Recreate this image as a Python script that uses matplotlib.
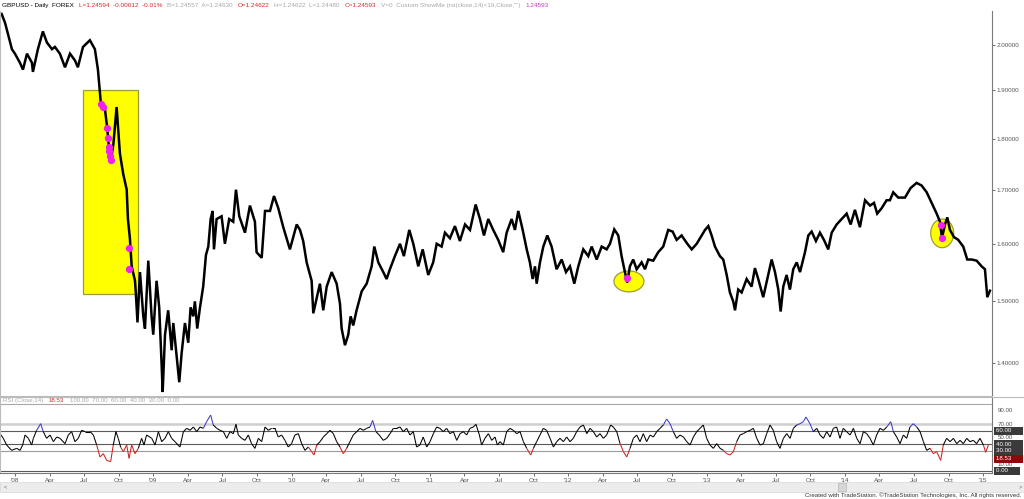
import numpy as np
import matplotlib
matplotlib.use("Agg")
import matplotlib.pyplot as plt
from matplotlib.collections import LineCollection
from matplotlib.patches import Rectangle, Ellipse
from matplotlib.ticker import NullLocator
from matplotlib.transforms import blended_transform_factory

plt.rcParams['font.family'] = ['Liberation Sans', 'DejaVu Sans']

# GBPUSD daily closes (decimal year, price)
price_t = [2007.904, 2007.928, 2007.949, 2007.978, 2008.000, 2008.036, 2008.058, 2008.087, 2008.123, 2008.130,
           2008.166, 2008.202, 2008.231, 2008.268, 2008.289, 2008.325, 2008.362, 2008.398, 2008.434, 2008.455,
           2008.492, 2008.542, 2008.578, 2008.600, 2008.622, 2008.651, 2008.667, 2008.682, 2008.694, 2008.712,
           2008.735, 2008.759, 2008.783, 2008.808, 2008.817, 2008.831, 2008.844, 2008.868, 2008.875, 2008.886,
           2008.904, 2008.928, 2008.940, 2008.964, 2008.988, 2009.000, 2009.024, 2009.043, 2009.061, 2009.068,
           2009.085, 2009.108, 2009.133, 2009.145, 2009.169, 2009.188, 2009.205, 2009.229, 2009.253, 2009.270,
           2009.289, 2009.301, 2009.318, 2009.338, 2009.361, 2009.381, 2009.398, 2009.415, 2009.429, 2009.439,
           2009.458, 2009.494, 2009.518, 2009.549, 2009.578, 2009.598, 2009.622, 2009.663, 2009.699, 2009.735,
           2009.747, 2009.784, 2009.808, 2009.844, 2009.873, 2009.904, 2009.940, 2009.988, 2010.037, 2010.061,
           2010.084, 2010.109, 2010.145, 2010.157, 2010.205, 2010.229, 2010.254, 2010.290, 2010.326, 2010.350,
           2010.362, 2010.386, 2010.410, 2010.427, 2010.446, 2010.470, 2010.507, 2010.543, 2010.579, 2010.598,
           2010.627, 2010.663, 2010.687, 2010.711, 2010.747, 2010.784, 2010.812, 2010.851, 2010.880, 2010.916,
           2010.948, 2010.988, 2011.024, 2011.049, 2011.085, 2011.109, 2011.145, 2011.181, 2011.217, 2011.254,
           2011.290, 2011.331, 2011.362, 2011.391, 2011.422, 2011.458, 2011.494, 2011.530, 2011.555, 2011.591,
           2011.615, 2011.639, 2011.671, 2011.700, 2011.723, 2011.743, 2011.760, 2011.772, 2011.796, 2011.820,
           2011.849, 2011.880, 2011.916, 2011.953, 2011.984, 2012.013, 2012.044, 2012.073, 2012.109, 2012.145,
           2012.170, 2012.206, 2012.242, 2012.278, 2012.302, 2012.333, 2012.362, 2012.386, 2012.410, 2012.427,
           2012.446, 2012.470, 2012.495, 2012.531, 2012.555, 2012.579, 2012.615, 2012.651, 2012.687, 2012.723,
           2012.755, 2012.784, 2012.820, 2012.861, 2012.893, 2012.929, 2012.965, 2012.989, 2013.013, 2013.037,
           2013.061, 2013.097, 2013.121, 2013.146, 2013.169, 2013.193, 2013.206, 2013.229, 2013.254, 2013.290,
           2013.326, 2013.350, 2013.374, 2013.410, 2013.446, 2013.471, 2013.495, 2013.519, 2013.536, 2013.555,
           2013.579, 2013.603, 2013.627, 2013.652, 2013.676, 2013.712, 2013.736, 2013.760, 2013.791, 2013.820,
           2013.849, 2013.880, 2013.905, 2013.941, 2013.977, 2014.013, 2014.042, 2014.073, 2014.109, 2014.146,
           2014.182, 2014.211, 2014.234, 2014.266, 2014.302, 2014.326, 2014.350, 2014.386, 2014.435, 2014.475,
           2014.519, 2014.555, 2014.592, 2014.628, 2014.664, 2014.688, 2014.702, 2014.724, 2014.741, 2014.760,
           2014.789, 2014.820, 2014.856, 2014.885, 2014.917, 2014.953, 2014.989, 2015.013, 2015.030, 2015.049]
price_v = [2.070, 2.050, 2.025, 1.990, 1.980, 1.960, 1.945, 1.980, 1.960, 1.940,
           1.990, 2.030, 2.005, 1.990, 1.995, 1.980, 1.950, 1.980, 1.965, 1.950,
           1.995, 2.010, 1.990, 1.945, 1.870, 1.860, 1.822, 1.775, 1.757, 1.790,
           1.865, 1.770, 1.730, 1.700, 1.645, 1.610, 1.560, 1.535, 1.510, 1.465,
           1.550, 1.475, 1.455, 1.570, 1.475, 1.445, 1.535, 1.490, 1.395, 1.355,
           1.445, 1.485, 1.420, 1.464, 1.410, 1.370, 1.415, 1.464, 1.432, 1.490,
           1.475, 1.500, 1.455, 1.490, 1.525, 1.580, 1.595, 1.645, 1.660, 1.590,
           1.645, 1.650, 1.600, 1.645, 1.640, 1.700, 1.650, 1.620, 1.670, 1.640,
           1.585, 1.575, 1.660, 1.660, 1.688, 1.665, 1.630, 1.590, 1.635, 1.625,
           1.605, 1.567, 1.535, 1.480, 1.530, 1.485, 1.525, 1.550, 1.530, 1.496,
           1.455, 1.428, 1.445, 1.475, 1.460, 1.485, 1.517, 1.530, 1.560, 1.595,
           1.567, 1.550, 1.538, 1.555, 1.578, 1.600, 1.578, 1.625, 1.600, 1.560,
           1.590, 1.545, 1.567, 1.600, 1.595, 1.620, 1.610, 1.632, 1.605, 1.635,
           1.625, 1.672, 1.645, 1.615, 1.645, 1.625, 1.607, 1.585, 1.620, 1.645,
           1.625, 1.660, 1.625, 1.590, 1.567, 1.538, 1.560, 1.530, 1.567, 1.595,
           1.615, 1.595, 1.555, 1.572, 1.550, 1.560, 1.530, 1.560, 1.590, 1.578,
           1.595, 1.572, 1.595, 1.590, 1.600, 1.626, 1.615, 1.578, 1.550, 1.532,
           1.560, 1.572, 1.555, 1.567, 1.555, 1.572, 1.570, 1.585, 1.595, 1.625,
           1.622, 1.607, 1.615, 1.600, 1.590, 1.600, 1.615, 1.625, 1.632, 1.615,
           1.595, 1.578, 1.572, 1.545, 1.515, 1.500, 1.485, 1.520, 1.515, 1.538,
           1.525, 1.557, 1.538, 1.507, 1.545, 1.572, 1.550, 1.520, 1.483, 1.525,
           1.545, 1.520, 1.555, 1.567, 1.550, 1.585, 1.615, 1.622, 1.605, 1.620,
           1.607, 1.590, 1.620, 1.635, 1.645, 1.655, 1.635, 1.662, 1.630, 1.680,
           1.670, 1.675, 1.655, 1.665, 1.680, 1.680, 1.695, 1.685, 1.685, 1.703,
           1.713, 1.708, 1.695, 1.675, 1.655, 1.640, 1.610, 1.635, 1.648, 1.625,
           1.612, 1.607, 1.595, 1.572, 1.572, 1.570, 1.560, 1.555, 1.507, 1.518]

# RSI(14) of the close
rsi_t = [2007.892, 2007.916, 2007.940, 2007.976, 2008.013, 2008.037, 2008.056, 2008.073, 2008.097, 2008.121,
         2008.133, 2008.157, 2008.186, 2008.205, 2008.229, 2008.254, 2008.278, 2008.302, 2008.326, 2008.362,
         2008.386, 2008.410, 2008.434, 2008.458, 2008.482, 2008.506, 2008.543, 2008.567, 2008.591, 2008.615,
         2008.639, 2008.663, 2008.692, 2008.711, 2008.730, 2008.747, 2008.764, 2008.784, 2008.808, 2008.825,
         2008.844, 2008.868, 2008.892, 2008.916, 2008.933, 2008.952, 2008.989, 2009.013, 2009.037, 2009.061,
         2009.085, 2009.109, 2009.133, 2009.157, 2009.193, 2009.218, 2009.242, 2009.266, 2009.290, 2009.314,
         2009.338, 2009.362, 2009.386, 2009.415, 2009.434, 2009.459, 2009.483, 2009.507, 2009.531, 2009.555,
         2009.579, 2009.598, 2009.615, 2009.639, 2009.663, 2009.687, 2009.711, 2009.735, 2009.760, 2009.784,
         2009.808, 2009.832, 2009.856, 2009.880, 2009.904, 2009.928, 2009.952, 2009.976, 2010.000, 2010.024,
         2010.049, 2010.073, 2010.097, 2010.121, 2010.145, 2010.162, 2010.182, 2010.206, 2010.230, 2010.254,
         2010.278, 2010.302, 2010.326, 2010.350, 2010.374, 2010.398, 2010.422, 2010.446, 2010.471, 2010.495,
         2010.519, 2010.543, 2010.567, 2010.586, 2010.610, 2010.634, 2010.663, 2010.688, 2010.712, 2010.736,
         2010.760, 2010.784, 2010.808, 2010.832, 2010.856, 2010.880, 2010.904, 2010.928, 2010.952, 2010.977,
         2011.001, 2011.025, 2011.049, 2011.073, 2011.097, 2011.121, 2011.145, 2011.170, 2011.194, 2011.218,
         2011.242, 2011.266, 2011.290, 2011.314, 2011.333, 2011.358, 2011.374, 2011.398, 2011.423, 2011.447,
         2011.471, 2011.488, 2011.507, 2011.531, 2011.555, 2011.579, 2011.603, 2011.628, 2011.652, 2011.676,
         2011.700, 2011.729, 2011.748, 2011.772, 2011.796, 2011.820, 2011.844, 2011.869, 2011.893, 2011.917,
         2011.941, 2011.965, 2011.989, 2012.013, 2012.037, 2012.061, 2012.085, 2012.110, 2012.134, 2012.158,
         2012.182, 2012.206, 2012.230, 2012.254, 2012.278, 2012.307, 2012.326, 2012.351, 2012.375, 2012.399,
         2012.423, 2012.447, 2012.471, 2012.495, 2012.519, 2012.543, 2012.567, 2012.592, 2012.616, 2012.640,
         2012.664, 2012.688, 2012.712, 2012.736, 2012.760, 2012.784, 2012.808, 2012.833, 2012.857, 2012.881,
         2012.905, 2012.929, 2012.953, 2012.977, 2013.001, 2013.025, 2013.049, 2013.074, 2013.098, 2013.122,
         2013.146, 2013.170, 2013.194, 2013.218, 2013.242, 2013.266, 2013.290, 2013.315, 2013.339, 2013.363,
         2013.387, 2013.411, 2013.435, 2013.459, 2013.483, 2013.507, 2013.531, 2013.556, 2013.580, 2013.604,
         2013.628, 2013.652, 2013.676, 2013.700, 2013.719, 2013.748, 2013.772, 2013.797, 2013.821, 2013.845,
         2013.869, 2013.893, 2013.917, 2013.941, 2013.965, 2013.989, 2014.013, 2014.038, 2014.062, 2014.086,
         2014.110, 2014.134, 2014.158, 2014.182, 2014.206, 2014.230, 2014.254, 2014.279, 2014.303, 2014.332,
         2014.351, 2014.375, 2014.399, 2014.423, 2014.447, 2014.471, 2014.495, 2014.520, 2014.544, 2014.568,
         2014.592, 2014.616, 2014.640, 2014.664, 2014.693, 2014.712, 2014.736, 2014.761, 2014.785, 2014.809,
         2014.833, 2014.857, 2014.881, 2014.905, 2014.929, 2014.953, 2014.977, 2015.002, 2015.018, 2015.038]
rsi_v = [56, 49, 39, 31, 34, 31, 39, 54, 49, 39,
         49, 61, 71, 59, 49, 54, 44, 51, 49, 41,
         54, 59, 44, 49, 61, 59, 59, 54, 39, 21,
         26, 16, 14, 39, 59, 49, 36, 29, 39, 19,
         39, 26, 34, 49, 39, 54, 49, 39, 59, 44,
         49, 59, 49, 44, 36, 59, 64, 61, 66, 59,
         66, 64, 74, 84, 69, 64, 61, 59, 49, 59,
         56, 70, 54, 49, 46, 54, 41, 34, 49, 44,
         66, 61, 64, 64, 51, 54, 46, 36, 41, 54,
         56, 41, 31, 36, 29, 24, 39, 44, 51, 56,
         61, 56, 44, 36, 26, 34, 44, 54, 59, 64,
         61, 64, 66, 76, 59, 54, 46, 49, 56, 64,
         64, 66, 59, 64, 54, 59, 36, 39, 51, 36,
         44, 56, 66, 64, 59, 64, 56, 59, 46, 56,
         59, 54, 64, 66, 70, 54, 39, 49, 56, 46,
         51, 39, 44, 39, 59, 64, 61, 56, 59, 44,
         34, 24, 34, 44, 54, 64, 61, 49, 36, 44,
         49, 44, 51, 44, 49, 59, 66, 69, 56, 64,
         59, 51, 56, 49, 54, 69, 66, 59, 41, 29,
         21, 34, 49, 54, 44, 56, 44, 54, 51, 59,
         64, 69, 78, 71, 59, 49, 54, 51, 44, 39,
         51, 59, 64, 69, 49, 39, 34, 41, 34, 31,
         26, 24, 29, 44, 54, 56, 59, 61, 64, 49,
         39, 41, 56, 69, 61, 44, 34, 49, 56, 49,
         64, 69, 71, 74, 81, 71, 59, 64, 54, 49,
         59, 51, 64, 66, 49, 64, 59, 54, 64, 49,
         41, 59, 56, 49, 39, 54, 64, 61, 66, 74,
         59, 51, 41, 54, 49, 66, 71, 66, 59, 44,
         31, 34, 26, 29, 16, 39, 49, 44, 49, 41,
         46, 41, 49, 44, 46, 41, 49, 39, 28, 39]

# ShowMe markers (rsi < 19)
dots_t = [2008.622, 2008.638, 2008.667, 2008.672, 2008.678, 2008.682, 2008.687, 2008.694,
          2008.824, 2008.824, 2012.423, 2014.693, 2014.702]
dots_v = [1.871, 1.865, 1.822, 1.802, 1.783, 1.775, 1.765, 1.757,
          1.592, 1.555, 1.540, 1.634, 1.611]

price_ticks = [1.4, 1.5, 1.6, 1.7, 1.8, 1.9, 2.0]
rsi_levels = [100, 70, 60, 40, 30, 0]
years = [2008, 2009, 2010, 2011, 2012, 2013, 2014, 2015]
month_names = {1: None, 4: 'Apr', 7: 'Jul', 10: 'Oct'}

W, H = 1024, 499


def box(x0, y0, x1, y1):
    return [x0 / W, 1 - y1 / H, (x1 - x0) / W, (y1 - y0) / H]


fig = plt.figure(figsize=(W / 100, H / 100), dpi=100)
fig.patch.set_facecolor('white')

xlim = (2007.892, 2015.064)
axis_c = '#7a7a7a'
lab_c = '#555555'

# ---- price panel ----
ax = fig.add_axes(box(0, 11, 992, 396))
ax.set_yscale('log')
ax.set_xlim(*xlim)
ax.set_ylim(1.349, 2.077)

ax.add_patch(Rectangle((2008.489, 1.513), 2008.891 - 2008.489, 1.90 - 1.513,
                       facecolor='#ffff00', edgecolor='#9c9c3c', lw=0.9, zorder=1))
ax.add_patch(Ellipse((2012.439, 1.534), 0.217, 0.036, facecolor='#ffff00',
                     edgecolor='#9c9c3c', lw=0.9, zorder=1))
ax.add_patch(Ellipse((2014.704, 1.619), 0.166, 0.052, facecolor='#ffff00',
                     edgecolor='#9c9c3c', lw=0.9, zorder=1))

ax.plot(price_t, price_v, color='black', lw=1.8, zorder=2, solid_joinstyle='miter')
ax.plot(dots_t, dots_v, 'o', color='#f020f0', ms=4.2, mec='#f020f0', zorder=3)

ax.yaxis.set_minor_locator(NullLocator())
ax.yaxis.tick_right()
ax.set_yticks(price_ticks)
ax.set_yticklabels(['%.5f' % v for v in price_ticks])
ax.tick_params(axis='y', labelsize=4.5, colors=lab_c, length=2.5, width=0.6, pad=1)
ax.set_xticks([])
ax.spines['top'].set_visible(False)
ax.spines['right'].set_color(axis_c)
ax.spines['left'].set_color('#bbbbbb')
ax.spines['bottom'].set_color('#bbbbbb')
for s in ax.spines.values():
    s.set_linewidth(0.8)
# panel separator runs under the scale too
fig.add_artist(plt.Line2D([0, 1], [1 - 396.5 / H] * 2, color='#bbbbbb', lw=0.8))

# header line
parts = [("GBPUSD - Daily  FOREX", 'black'),
         ("L=1.24594  -0.00012  -0.01%", '#d42a2a'),
         ("B=1.24557  A=1.24630", '#a8a8a8'),
         ("O=1.24622", '#d42a2a'),
         ("H=1.24622  L=1.24480", '#a8a8a8'),
         ("C=1.24593", '#d42a2a'),
         ("V=0  Custom ShowMe (rsi(close,14)<19,Close,\"\")", '#a8a8a8'),
         ("1.24593", '#c43cc4')]
prev = fig.text(2 / W, 1 - 5.5 / H, parts[0][0], color=parts[0][1], fontsize=4.6, va='center')
for s, c in parts[1:]:
    prev = ax.annotate(s, xy=(1, 0.5), xycoords=prev, xytext=(3.5, 0), textcoords='offset points',
                       va='center', ha='left', fontsize=4.6, color=c, annotation_clip=False)

# ---- RSI panel ----
ax2 = fig.add_axes(box(0, 397, 992, 473))
ax2.set_xlim(*xlim)
ax2.set_ylim(-3, 111)
level_style = {100: ('#a8a8a8', 0.8), 70: ('#cfcfcf', 1.8), 60: ('#5a5a5a', 0.8),
               40: ('#5a5a5a', 0.8), 30: ('#9a9a9a', 0.8), 0: ('#5a5a5a', 0.8)}
for lv in rsi_levels:
    c, w = level_style[lv]
    ax2.axhline(lv, color=c, lw=w, zorder=1)

rt = np.array(rsi_t)
rv = np.array(rsi_v, dtype=float)
segs = np.stack([np.column_stack([rt[:-1], rv[:-1]]), np.column_stack([rt[1:], rv[1:]])], axis=1)
cols = []
for a, b in zip(rv[:-1], rv[1:]):
    if min(a, b) < 30:
        cols.append('#cc2222')
    elif max(a, b) > 70:
        cols.append('#3a3ac8')
    else:
        cols.append('black')
ax2.add_collection(LineCollection(segs, colors=cols, lw=0.75, zorder=2))

tr = blended_transform_factory(ax2.transAxes, ax2.transData)
hdr = ax2.text(0.003, 106, "RSI (Close,14)", transform=tr, fontsize=4.4, color='#a8a8a8', va='center')
h2 = ax2.annotate("18.53", xy=(1, 0.5), xycoords=hdr, xytext=(4, 0), textcoords='offset points',
                  va='center', fontsize=4.4, color='#d42a2a', annotation_clip=False)
ax2.annotate("100.00  70.00  60.00  40.00  30.00  0.00", xy=(1, 0.5), xycoords=h2, xytext=(4, 0),
             textcoords='offset points', va='center', fontsize=4.4, color='#a8a8a8',
             annotation_clip=False)

# right scale of the RSI panel
plain = [(90, '90.00'), (70, '70.00'), (50, '50.00'), (10, '10.00')]
boxed = [(60, '60.00', '#3a3a3a'), (40, '40.00', '#3a3a3a'), (30, '30.00', '#3a3a3a'),
         (18.53, '18.53', '#8b0a0a'), (0, '0.00', '#3a3a3a')]
for v, s in plain:
    ax2.text(1.006, v, s, transform=tr, fontsize=4.4, color=lab_c, va='center', ha='left')
for v, s, c in boxed:
    ax2.text(1.004, v, s + '      ', transform=tr, fontsize=4.4, color='white', va='center', ha='left',
             bbox=dict(boxstyle='square,pad=0.25', fc=c, ec='none'))
ax2.yaxis.set_ticks([])

tick_pos, tick_lab = [], []
for y in years:
    for m, name in month_names.items():
        t = y + (m - 1) / 12
        if xlim[0] <= t <= xlim[1]:
            tick_pos.append(t)
            tick_lab.append("'%02d" % (y % 100) if name is None else name)
ax2.set_xticks(tick_pos)
ax2.set_xticklabels(tick_lab)
ax2.tick_params(axis='x', labelsize=4.6, colors=lab_c, length=2, width=0.6, pad=1.5)
ax2.spines['top'].set_visible(False)
ax2.spines['right'].set_color(axis_c)
ax2.spines['left'].set_color('#bbbbbb')
ax2.spines['bottom'].set_color(axis_c)
for s in ax2.spines.values():
    s.set_linewidth(0.8)

# scrollbar and credit line
fig.patches.append(Rectangle((0, 1 - 492 / H), 1, 10 / H, transform=fig.transFigure,
                             facecolor='#ececec', edgecolor='#d8d8d8', lw=0.5))
fig.patches.append(Rectangle((838 / W, 1 - 491 / H), 8 / W, 8 / H, transform=fig.transFigure,
                             facecolor='#d6d6d6', edgecolor='#b8b8b8', lw=0.5))
fig.text(4 / W, 1 - 487 / H, '<', fontsize=4, color='#666666', va='center')
fig.text(1019 / W, 1 - 487 / H, '>', fontsize=4, color='#666666', va='center')
fig.text(1021 / W, 1 - 495.5 / H,
         "Created with TradeStation. \u00a9TradeStation Technologies, Inc. All rights reserved.",
         fontsize=4.4, color='#333333', ha='right', va='center')

fig.savefig('out.png', dpi=100, facecolor='white')
